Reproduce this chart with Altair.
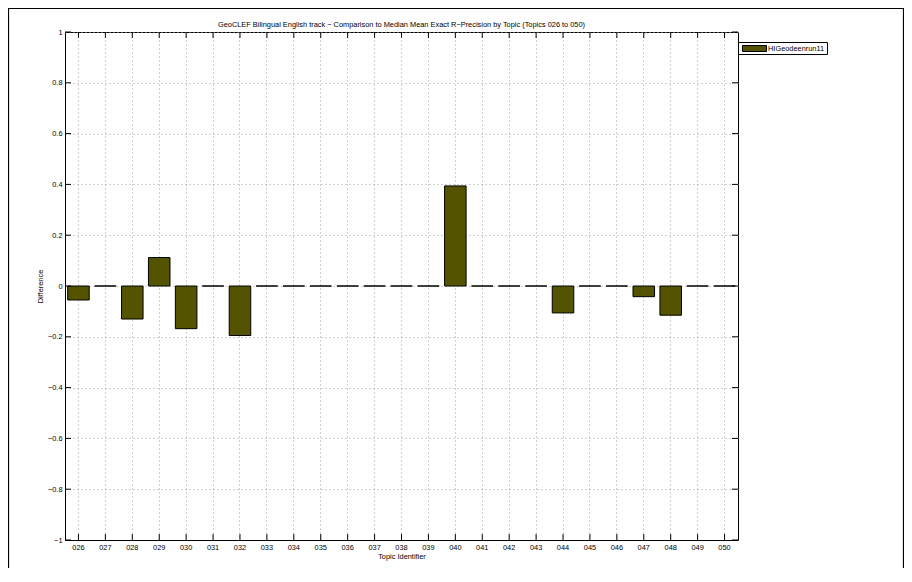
import altair as alt
import pandas as pd

# ---- data ----
topics = ["026", "027", "028", "029", "030", "031", "032", "033", "034", "035",
          "036", "037", "038", "039", "040", "041", "042", "043", "044", "045",
          "046", "047", "048", "049", "050"]
values = [-0.055, 0.0, -0.13, 0.112, -0.168, 0.0, -0.195, 0.0, 0.0, 0.0,
          0.0, 0.0, 0.0, 0.0, 0.394, 0.0, 0.0, 0.0, -0.106, 0.0,
          0.0, -0.042, -0.115, 0.0, 0.0]
yticks = [-1, -0.8, -0.6, -0.4, -0.2, 0, 0.2, 0.4, 0.6, 0.8, 1]
series_name = "HIGeodeenrun11"
title_text = ("GeoCLEF Bilingual English track \u2212 Comparison to Median Mean Exact "
              "R\u2212Precision by Topic (Topics 026 to 050)")
x_title = "Topic Identifier"
y_title = "Difference"

BAR = "#545400"
GRID = "#a0a0a0"
FONT = "Liberation Sans"
FS = 7.4
W, H = 673, 508
TICK = 6

df = pd.DataFrame({"topic": topics, "value": values})
xt = pd.DataFrame({"topic": topics})
yt = pd.DataFrame({"value": yticks})
one = pd.DataFrame({"k": [0]})

xscale = alt.Scale(domain=topics, paddingInner=0.2, paddingOuter=0.1)
yscale = alt.Scale(domain=[-1, 1], nice=False, zero=False)

xaxis = alt.Axis(title=x_title, grid=True, gridColor=GRID, gridDash=[1, 3],
                 ticks=False, labelAngle=0, labelPadding=3, labelFontSize=FS,
                 titleFontSize=FS, titleFontWeight="normal",
                 titleX=W / 2, titleY=16, titleBaseline="middle",
                 domainColor="black")
yaxis = alt.Axis(title=y_title, values=yticks, format=".1~f", grid=True,
                 gridColor=GRID, gridDash=[1, 3], ticks=False,
                 labelPadding=3, labelFontSize=FS, titleFontSize=FS,
                 titleFontWeight="normal", titleAngle=270, titleX=-25,
                 titleY=H / 2, titleBaseline="middle", domainColor="black")

X = alt.X("topic:N", scale=xscale, sort=topics, axis=xaxis, title=x_title)
Y = alt.Y("value:Q", scale=yscale, axis=yaxis, title=y_title)

bars = alt.Chart(df).mark_bar(color=BAR, stroke="black", strokeWidth=1).encode(
    x=X, y=Y, y2=alt.datum(0))

xt_bottom = alt.Chart(xt).mark_rule(color="black").encode(
    x=X, y=alt.value(H - TICK), y2=alt.value(H))
xt_top = alt.Chart(xt).mark_rule(color="black").encode(
    x=X, y=alt.value(0), y2=alt.value(TICK))
yt_left = alt.Chart(yt).mark_rule(color="black").encode(
    y=Y, x=alt.value(0), x2=alt.value(TICK))
yt_right = alt.Chart(yt).mark_rule(color="black").encode(
    y=Y, x=alt.value(W - TICK), x2=alt.value(W))

frame = alt.Chart(one).mark_rect(fill="transparent", stroke="black", strokeWidth=1.2).encode(
    x=alt.value(-56.5), x2=alt.value(838.5), y=alt.value(-23.5), y2=alt.value(600))

title = alt.Chart(one).mark_text(text=title_text, font=FONT, fontSize=FS, color="black",
                                 baseline="middle").encode(
    x=alt.value(W / 2), y=alt.value(-7))

leg_box = alt.Chart(one).mark_rect(fill="white", stroke="black", strokeWidth=1).encode(
    x=alt.value(673.5), x2=alt.value(762.5), y=alt.value(10.5), y2=alt.value(22.5))
leg_sw = alt.Chart(one).mark_rect(fill=BAR, stroke="black", strokeWidth=1).encode(
    x=alt.value(677.5), x2=alt.value(701.5), y=alt.value(13.5), y2=alt.value(19.5))
leg_txt = alt.Chart(one).mark_text(text=series_name, font=FONT, fontSize=FS, color="black",
                                   align="left", baseline="middle").encode(
    x=alt.value(703), y=alt.value(16.5))

chart = alt.layer(frame, bars, xt_bottom, xt_top, yt_left, yt_right, title,
                  leg_box, leg_sw, leg_txt).properties(
    width=W, height=H,
    autosize=alt.AutoSizeParams(type="none"),
    padding={"left": 57, "top": 24, "right": 166, "bottom": 28},
    background="white",
).configure_view(stroke="black", strokeWidth=1).configure_axis(
    labelFont=FONT, titleFont=FONT, labelColor="black", titleColor="black")

chart.save("out.html", embed_options={"renderer": "svg", "actions": False})
